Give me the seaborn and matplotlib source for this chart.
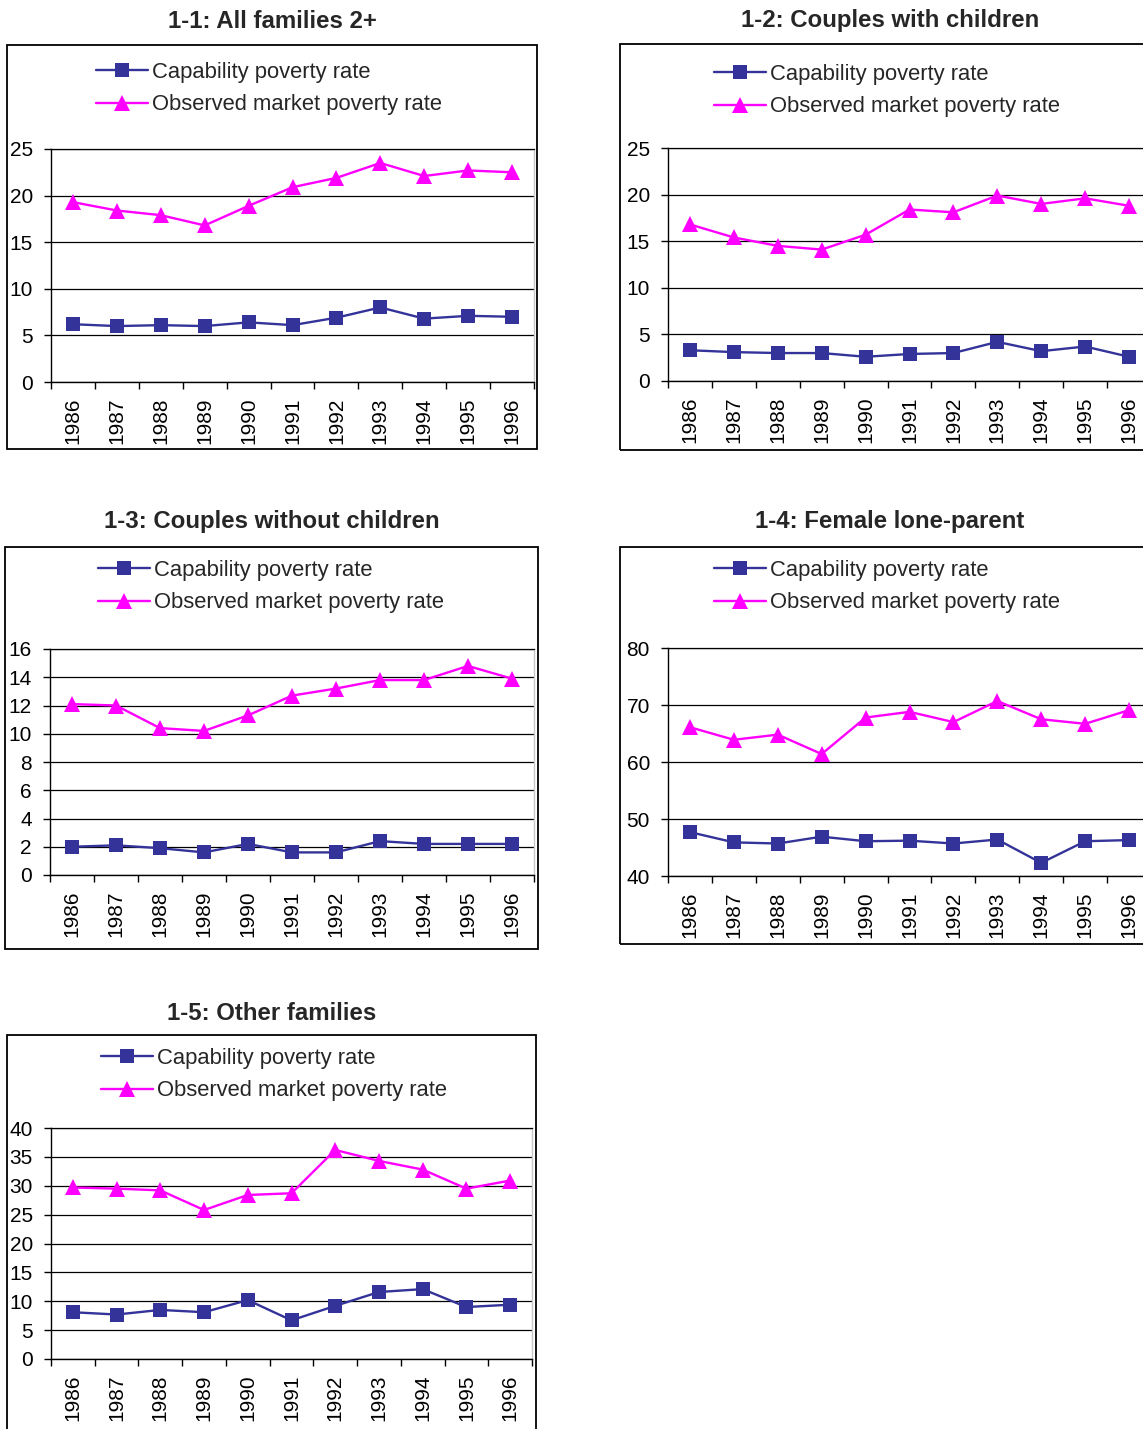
import numpy as np
import pandas as pd
import matplotlib
matplotlib.use("Agg")
import matplotlib.pyplot as plt
import seaborn as sns
from matplotlib.patches import Rectangle
from matplotlib.lines import Line2D

# ---- data -------------------------------------------------------------
years = [1986, 1987, 1988, 1989, 1990, 1991, 1992, 1993, 1994, 1995, 1996]
series_names = ["Capability poverty rate", "Observed market poverty rate"]

titles = [
    "1-1: All families 2+",
    "1-2: Couples with children",
    "1-3: Couples without children",
    "1-4: Female lone-parent",
    "1-5: Other families",
]

cap_all = [6.2, 6.0, 6.1, 6.0, 6.4, 6.1, 6.9, 8.0, 6.8, 7.1, 7.0]
mkt_all = [19.3, 18.4, 17.9, 16.8, 18.9, 20.9, 21.9, 23.5, 22.1, 22.7, 22.5]

cap_cwc = [3.3, 3.1, 3.0, 3.0, 2.6, 2.9, 3.0, 4.2, 3.2, 3.7, 2.6]
mkt_cwc = [16.8, 15.4, 14.5, 14.1, 15.7, 18.4, 18.1, 19.9, 19.0, 19.6, 18.8]

cap_cnc = [2.0, 2.1, 1.9, 1.6, 2.2, 1.6, 1.6, 2.4, 2.2, 2.2, 2.2]
mkt_cnc = [12.1, 12.0, 10.4, 10.2, 11.3, 12.7, 13.2, 13.8, 13.8, 14.8, 13.9]

cap_flp = [47.7, 45.9, 45.7, 46.9, 46.1, 46.2, 45.7, 46.4, 42.3, 46.1, 46.3]
mkt_flp = [66.1, 63.9, 64.8, 61.4, 67.8, 68.8, 67.0, 70.7, 67.5, 66.7, 69.1]

cap_oth = [8.1, 7.7, 8.5, 8.1, 10.2, 6.7, 9.2, 11.6, 12.1, 9.0, 9.4]
mkt_oth = [29.7, 29.5, 29.2, 25.8, 28.4, 28.7, 36.2, 34.3, 32.8, 29.5, 30.9]

y_ranges = [(0, 25, 5), (0, 25, 5), (0, 16, 2), (40, 80, 10), (0, 40, 5)]

# ---- styling ----------------------------------------------------------
sns.set_theme(style="white")
plt.rcParams["font.family"] = ["Liberation Sans", "DejaVu Sans"]

CAP_COLOR = "#333399"
MKT_COLOR = "#FF00FF"
SQ_SIZE = 10
TRI_SIZE = 12
LINE_W = 1.7

W, H = 1143, 1429
fig = plt.figure(figsize=(W / 100, H / 100), dpi=100)
fig.patch.set_facecolor("white")


def fx(px):
    return px / W


def fy(py):
    return 1 - py / H


# pixel layout of each panel: outer frame, plot area, title centre, legend anchor
layout = [
    dict(frame=(7, 45, 537, 449), axes=(51, 149, 534, 382), title=(272, 21), legend=(96, 62)),
    dict(frame=(620, 44, 1160, 450), axes=(668, 148, 1151, 381), title=(890, 21), legend=(714, 64)),
    dict(frame=(5, 547, 538, 949), axes=(50, 649, 534, 875), title=(272, 521), legend=(98, 560)),
    dict(frame=(620, 547, 1160, 944), axes=(668, 648, 1151, 876), title=(890, 521), legend=(714, 560)),
    dict(frame=(7, 1035, 536, 1445), axes=(51, 1128, 532, 1359), title=(272, 1013), legend=(101, 1048)),
]

cap_series = [cap_all, cap_cwc, cap_cnc, cap_flp, cap_oth]
mkt_series = [mkt_all, mkt_cwc, mkt_cnc, mkt_flp, mkt_oth]

pos = np.arange(len(years))

for title, cap, mkt, (ymin, ymax, ystep), lay in zip(
    titles, cap_series, mkt_series, y_ranges, layout
):
    # outer chart frame
    x0, y0, x1, y1 = lay["frame"]
    fig.patches.append(
        Rectangle((fx(x0), fy(y1)), (x1 - x0) / W, (y1 - y0) / H,
                  transform=fig.transFigure, fill=False,
                  edgecolor="black", linewidth=1.3, zorder=0)
    )
    fig.text(fx(lay["title"][0]), fy(lay["title"][1]), title,
             ha="center", va="center", fontsize=17.3, fontweight="bold")

    ax0, ay0, ax1, ay1 = lay["axes"]
    ax = fig.add_axes([fx(ax0), fy(ay1), (ax1 - ax0) / W, (ay1 - ay0) / H])
    ax.set_facecolor("white")

    df = pd.DataFrame({
        "pos": np.concatenate([pos, pos]),
        "rate": cap + mkt,
        "series": [series_names[0]] * len(years) + [series_names[1]] * len(years),
    })

    sns.lineplot(data=df[df["series"] == series_names[0]], x="pos", y="rate",
                 color=CAP_COLOR, marker="s", markersize=SQ_SIZE,
                 markeredgewidth=0, linewidth=LINE_W, ax=ax, legend=False, zorder=3)
    sns.lineplot(data=df[df["series"] == series_names[1]], x="pos", y="rate",
                 color=MKT_COLOR, marker="^", markersize=TRI_SIZE,
                 markeredgewidth=0, linewidth=LINE_W, ax=ax, legend=False, zorder=3)

    ax.set_xlim(-0.5, len(years) - 0.5)
    ax.set_ylim(ymin, ymax)
    ax.set_yticks(np.arange(ymin, ymax + ystep / 2, ystep))
    ax.set_yticklabels([f"{v:g}" for v in np.arange(ymin, ymax + ystep / 2, ystep)])

    # category boundaries carry the tick marks, centres carry the labels
    ax.set_xticks(np.arange(-0.5, len(years), 1.0))
    ax.set_xticklabels([])
    ax.set_xticks(pos, minor=True)
    ax.set_xticklabels([str(y) for y in years], minor=True, rotation=90)
    ax.tick_params(axis="x", which="major", length=5, width=1, color="black",
                   direction="out", bottom=True)
    ax.tick_params(axis="x", which="minor", length=0, pad=11, labelsize=15,
                   labelcolor="black")
    ax.tick_params(axis="y", length=5, width=1, color="black", direction="out",
                   left=True, pad=8, labelsize=15, labelcolor="black")

    ax.yaxis.grid(True, color="black", linewidth=0.9)
    ax.set_axisbelow(True)
    ax.set_xlabel("")
    ax.set_ylabel("")
    for side in ("left", "bottom"):
        ax.spines[side].set_color("black")
        ax.spines[side].set_linewidth(1.0)
    ax.spines["top"].set_color("black")
    ax.spines["top"].set_linewidth(0.9)
    ax.spines["right"].set_color("#c8c8c8")
    ax.spines["right"].set_linewidth(1.0)

    handles = [
        Line2D([], [], color=CAP_COLOR, marker="s", markersize=SQ_SIZE,
               markeredgewidth=0, linewidth=LINE_W),
        Line2D([], [], color=MKT_COLOR, marker="^", markersize=TRI_SIZE,
               markeredgewidth=0, linewidth=LINE_W),
    ]
    lx, ly = lay["legend"]
    fig.legend(handles, series_names, loc="upper left",
               bbox_to_anchor=(fx(lx), fy(ly)), frameon=False,
               fontsize=15.8, handlelength=2.35, handletextpad=0.2,
               labelspacing=0.52, borderpad=0, borderaxespad=0)

fig.savefig("out.png", dpi=100, facecolor="white")
